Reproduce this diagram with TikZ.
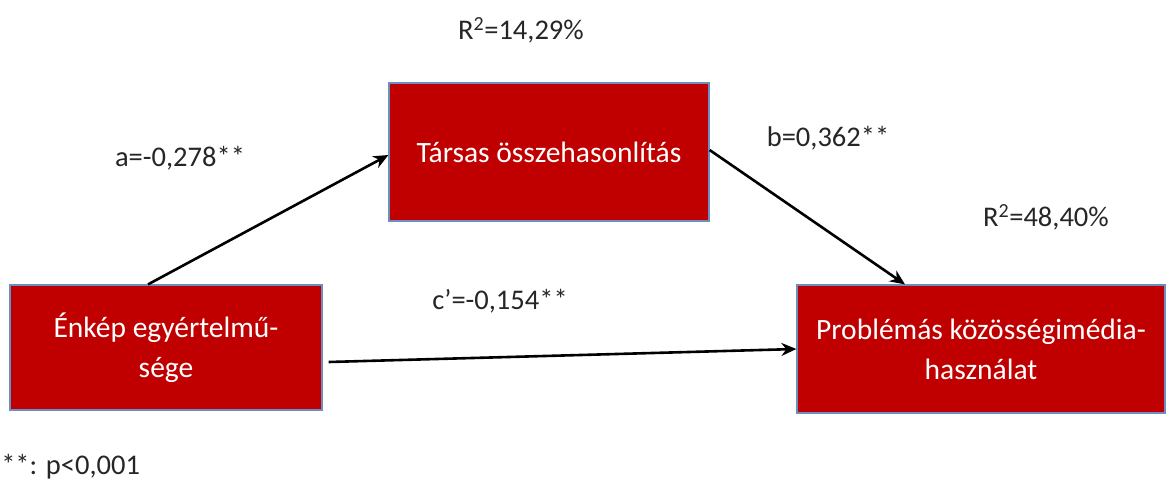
\documentclass[tikz,border=0pt]{standalone}
\usepackage{fontspec}
\setmainfont{Carlito}
\usepackage{tikz}
\usetikzlibrary{positioning, arrows.meta}

\definecolor{boxred}{HTML}{C00000}
\definecolor{boxline}{HTML}{6A8FC0}
\definecolor{labgray}{HTML}{262626}

\begin{document}
\begin{tikzpicture}[x=1pt, y=-1pt, ->, >={Stealth[length=15pt, width=13pt]}, line width=2.6pt,
    var node/.style={rectangle, draw=boxline, line width=1.2pt, fill=boxred, text=white,
      align=center, inner sep=0pt, font=\fontsize{29.5}{40}\selectfont},
    coef/.style={text=labgray, inner sep=0pt, font=\fontsize{28.5}{34}\selectfont}]
  \useasboundingbox (0,0) rectangle (1166,482);

  % Variables
  \node[var node, minimum width=312pt, minimum height=125pt] (selfc) at (166,347.5) {Énkép egyértelmű-\\sége};
  \node[var node, minimum width=320pt, minimum height=138pt] (social) at (549,152) {Társas összehasonlítás};
  \node[var node, minimum width=368pt, minimum height=128pt] (psmu) at (981,349) {Problémás közösségimédia-\\használat};

  % Paths
  \draw ([xshift=-18pt]selfc.north) -- ([yshift=-3pt]social.west);
  \draw ([yshift=2pt]social.east) -- ([xshift=-76pt]psmu.north);
  \draw ([xshift=6pt, yshift=-14.5pt]selfc.east) -- (psmu.west);

  % Coefficients
  \node[coef] (r2a) at (521,30) {R\textsuperscript{2}=14,29\%};
  \node[coef] (lab a) at (180,158) {a=-0,278**};
  \node[coef] (lab b) at (828,138) {b=0,362**};
  \node[coef] (r2b) at (1046,217) {R\textsuperscript{2}=48,40\%};
  \node[coef] (lab c) at (500,301) {c’=-0,154**};
  \node[coef, anchor=west] (note) at (0,467) {**: p<0,001};
\end{tikzpicture}
\end{document}
